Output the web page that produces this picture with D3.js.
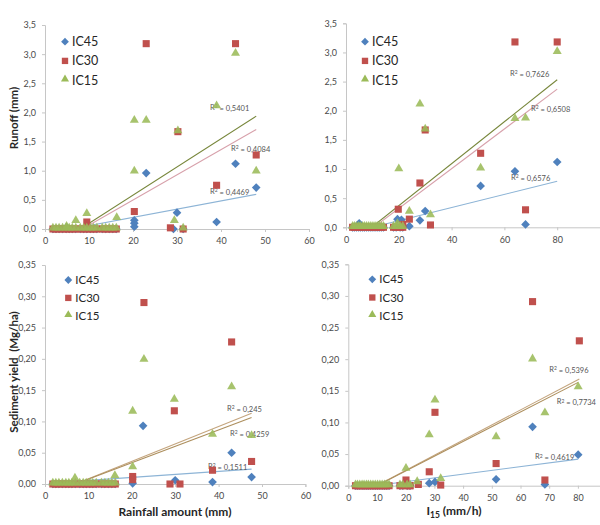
<!DOCTYPE html>
<html><head><meta charset="utf-8">
<script src="https://cdn.jsdelivr.net/npm/d3@7"></script>
<style>
body{margin:0;background:#fff}
svg{display:block}
text{font-family:Lato,"Open Sans",sans-serif}
</style>
</head><body>
<svg id="c" width="600" height="525"></svg>
<script>
// ---------- DATA ----------
const seriesNames = ["IC45", "IC30", "IC15"];
const seriesColors = ["#4F81BD", "#C0504D", "#9BBB59"];

// events with zero response (x positions)
const lowRain = [1.8, 2.5, 3.2, 4.0, 4.8, 5.5, 6.2, 7.0, 8.0, 8.8, 9.5, 10.3, 11.0, 11.8, 13.0, 13.8, 14.6, 15.4, 16.2];
const lowI15 = [2.5, 3.2, 4.0, 4.8, 5.5, 6.3, 7.0, 7.8, 8.6, 9.4, 10.2, 11.0, 11.8, 12.6, 13.4, 14.2, 18.0, 19.0, 20.5, 21.5];

// Runoff (mm) vs rainfall amount (mm)
const runRain_IC45 = [[4.9, 0.03], [20.3, 0.15], [20.3, 0.10], [20.3, 0.04], [23.0, 0.96], [29.2, 0.0], [30.0, 0.28], [31.4, 0.0], [39.0, 0.12], [43.3, 1.12], [48.0, 0.71]];
const runRain_IC30 = [[9.5, 0.12], [20.3, 0.30], [23.0, 3.18], [28.5, 0.02], [30.2, 1.67], [31.4, 0.0], [39.0, 0.75], [43.3, 3.18], [48.0, 1.27]];
const runRain_IC15 = [[4.9, 0.03], [7.0, 0.13], [9.5, 0.25], [16.3, 0.18], [20.3, 1.85], [20.3, 0.98], [23.0, 1.85], [29.4, 0.13], [30.2, 1.67], [31.4, 0.0], [39.0, 2.1], [43.3, 3.0], [48.0, 0.98]];

// Runoff (mm) vs I15 (mm/h)
const runI15_IC45 = [[5.0, 0.07], [19.5, 0.14], [21.0, 0.13], [24.0, 0.02], [28.0, 0.12], [30.0, 0.28], [51.0, 0.71], [64.0, 0.96], [68.0, 0.05], [80.0, 1.12]];
const runI15_IC30 = [[19.8, 0.31], [21.5, 0.05], [24.0, 0.14], [28.0, 0.76], [30.0, 1.67], [32.0, 0.04], [51.0, 1.27], [64.0, 3.18], [68.0, 0.30], [80.0, 3.18]];
const runI15_IC15 = [[19.5, 0.05], [20.0, 0.99], [24.0, 0.26], [28.0, 2.1], [30.0, 1.67], [32.0, 0.2], [51.0, 1.0], [64.0, 1.85], [68.0, 1.86], [80.0, 3.0]];

// Sediment yield (Mg/ha) vs rainfall amount (mm)
const sedRain_IC45 = [[20.2, 0.001], [22.6, 0.093], [30.0, 0.006], [38.6, 0.003], [43.0, 0.05], [47.6, 0.011]];
const sedRain_IC30 = [[20.2, 0.012], [20.2, 0.007], [22.8, 0.29], [28.8, 0.0], [29.8, 0.117], [31.1, 0.0], [38.6, 0.022], [43.0, 0.227], [47.6, 0.036]];
const sedRain_IC15 = [[6.9, 0.008], [16.1, 0.012], [20.2, 0.026], [20.2, 0.115], [22.8, 0.198], [29.8, 0.134], [38.6, 0.078], [43.0, 0.154], [47.6, 0.076]];

// Sediment yield (Mg/ha) vs I15 (mm/h)
const sedI15_IC45 = [[28.2, 0.004], [30.2, 0.006], [51.5, 0.01], [64.2, 0.093], [68.5, 0.002], [80.1, 0.049]];
const sedI15_IC30 = [[20.1, 0.009], [21.5, 0.0], [24.4, 0.002], [28.2, 0.022], [30.2, 0.116], [32.2, 0.001], [51.5, 0.035], [64.2, 0.291], [68.5, 0.009], [80.5, 0.229]];
const sedI15_IC15 = [[20.1, 0.026], [24.0, 0.005], [28.2, 0.079], [30.2, 0.134], [32.2, 0.01], [51.5, 0.076], [64.2, 0.199], [68.5, 0.114], [80.1, 0.155]];

// linear trendlines (slope, intercept, label) per series [IC45, IC30, IC15]
const trendSlope_runRain = [0.0141, 0.0432, 0.0484];
const trendIntercept_runRain = [-0.083, -0.367, -0.387];
const r2_runRain = ["0,4469", "0,4084", "0,5401"];

const trendSlope_runI15 = [0.01128, 0.0341, 0.036];
const trendIntercept_runI15 = [-0.112, -0.358, -0.349];
const r2_runI15 = ["0,6576", "0,6508", "0,7626"];

const trendSlope_sedRain = [0.00048, 0.00279, 0.00262];
const trendIntercept_sedRain = [0.001, -0.0196, -0.0184];
const r2_sedRain = ["0,1511", "0,245", "0,4259"];

const trendSlope_sedI15 = [0.000594, 0.00239, 0.00233];
const trendIntercept_sedI15 = [-0.0055, -0.0236, -0.0233];
const r2_sedI15 = ["0,4619", "0,5396", "0,7734"];

const runoffTicks = [0, 0.5, 1.0, 1.5, 2.0, 2.5, 3.0, 3.5];
const sedTicks = [0, 0.05, 0.10, 0.15, 0.20, 0.25, 0.30, 0.35];
const rainTicks = [0, 10, 20, 30, 40, 50, 60];
const i15TicksTop = [0, 20, 40, 60, 80];
const i15TicksBottom = [0, 10, 20, 30, 40, 50, 60, 70, 80];

// ---------- DRAW ----------
const svg = d3.select("#c");
const comma = (f) => (v) => d3.format(f)(v).replace(".", ",");

function withLow(low, pts) { return low.map(x => [x, 0]).concat(pts); }

function panel(cfg, id) {
  const x = d3.scaleLinear().domain(cfg.xd).range(cfg.xr);
  const y = d3.scaleLinear().domain(cfg.yd).range(cfg.yr);
  const g = svg.append("g");
  g.append("clipPath").attr("id", "clip" + id).append("rect")
    .attr("x", cfg.xr[0]).attr("y", cfg.yr[1])
    .attr("width", cfg.xr[1] - cfg.xr[0]).attr("height", cfg.yr[0] - cfg.yr[1]);

  const ya = g.append("g").attr("transform", `translate(${cfg.xr[0]},0)`)
    .call(d3.axisLeft(y).tickValues(cfg.yt).tickFormat(comma(cfg.yf)).tickSize(3).tickPadding(6));
  const xa = g.append("g").attr("transform", `translate(0,${cfg.yr[0]})`)
    .call(d3.axisBottom(x).tickValues(cfg.xt).tickFormat(d3.format("d")).tickSize(3).tickPadding(6));
  [ya, xa].forEach(a => {
    a.select(".domain").attr("stroke", "#c6c6c6");
    a.selectAll(".tick line").attr("stroke", "#c6c6c6");
    a.selectAll(".tick text").attr("fill", "#4a4a4a").style("font-size", "9px").style("font-family", "Lato");
  });

  // trendlines
  const tl = g.append("g").attr("clip-path", `url(#clip${id})`);
  cfg.series.forEach((pts, i) => {
    const xs = pts.map(p => p[0]);
    const x0 = d3.min(xs), x1 = d3.max(xs);
    tl.append("line")
      .attr("x1", x(x0)).attr("y1", y(cfg.slope[i] * x0 + cfg.icpt[i]))
      .attr("x2", x(x1)).attr("y2", y(cfg.slope[i] * x1 + cfg.icpt[i]))
      .attr("stroke", cfg.trendColors[i]).attr("stroke-width", 1.1);
  });
  // R2 labels
  cfg.r2.forEach((t, i) => {
    const tx = g.append("text").attr("x", cfg.r2pos[i][0]).attr("y", cfg.r2pos[i][1])
      .attr("dy", "0.35em").attr("fill", "#555").style("font-size", "7.5px");
    tx.append("tspan").text("R");
    tx.append("tspan").attr("dy", "-0.35em").style("font-size", "5px").text("2");
    tx.append("tspan").attr("dy", "0.35em").text(" = " + t);
  });

  // markers
  const sym = [d3.symbolDiamond2, d3.symbolSquare2, d3.symbolTriangle2];
  const symSize = [48, 64, 58];
  cfg.series.forEach((pts, i) => {
    g.append("g").selectAll("path").data(pts).join("path")
      .attr("transform", d => `translate(${x(d[0])},${y(d[1]) - (i === 2 ? 1 : 0)})`)
      .attr("d", d3.symbol().type(sym[i]).size(symSize[i]))
      .attr("fill", seriesColors[i]).attr("fill-opacity", i === 2 ? 0.88 : 1);
  });

  // legend
  seriesNames.forEach((n, i) => {
    const ly = cfg.leg[1] + i * cfg.leg[2];
    g.append("path").attr("transform", `translate(${cfg.leg[0]},${ly - (i === 2 ? 1 : 0)})`)
      .attr("d", d3.symbol().type(sym[i]).size(symSize[i] * 0.8)).attr("fill", seriesColors[i]);
    g.append("text").attr("x", cfg.leg[0] + 7).attr("y", ly).attr("dy", "0.36em")
      .attr("fill", "#262626").style("font-size", cfg.legFont + "px").text(n);
  });
}

const topTrend = ["#8db4d6", "#d7a0aa", "#77863a"];
const botTrend = ["#8db4d6", "#c4a57e", "#ad8f5d"];

panel({
  xd: [0, 60], xr: [45, 309], yd: [0, 3.5], yr: [229, 25], xt: rainTicks, yt: runoffTicks, yf: ".1f",
  series: [withLow(lowRain, runRain_IC45), withLow(lowRain, runRain_IC30), withLow(lowRain, runRain_IC15)],
  slope: trendSlope_runRain, icpt: trendIntercept_runRain, r2: r2_runRain, trendColors: topTrend,
  r2pos: [[210, 191], [231, 148], [210, 107]], leg: [65, 41.7, 19.2], legFont: 12.5
}, 1);

panel({
  xd: [0, 100], xr: [346, 610], yd: [0, 3.5], yr: [227.3, 23.3], xt: i15TicksTop, yt: runoffTicks, yf: ".1f",
  series: [withLow(lowI15, runI15_IC45), withLow(lowI15, runI15_IC30), withLow(lowI15, runI15_IC15)],
  slope: trendSlope_runI15, icpt: trendIntercept_runI15, r2: r2_runI15, trendColors: topTrend,
  r2pos: [[511, 177], [531, 108], [510, 73]], leg: [365, 41.7, 19.2], legFont: 12.5
}, 2);

panel({
  xd: [0, 60], xr: [45, 305.4], yd: [0, 0.35], yr: [484, 265], xt: rainTicks, yt: sedTicks, yf: ".2f",
  series: [withLow(lowRain, sedRain_IC45), withLow(lowRain, sedRain_IC30), withLow(lowRain, sedRain_IC15)],
  slope: trendSlope_sedRain, icpt: trendIntercept_sedRain, r2: r2_sedRain, trendColors: botTrend,
  r2pos: [[208, 466.5], [227, 408.3], [230, 433.3]], leg: [68.3, 280, 17.9], legFont: 11.5
}, 3);

panel({
  xd: [0, 90], xr: [348.3, 606.6], yd: [0, 0.35], yr: [485.7, 264.3], xt: i15TicksBottom, yt: sedTicks, yf: ".2f",
  series: [withLow(lowI15, sedI15_IC45), withLow(lowI15, sedI15_IC30), withLow(lowI15, sedI15_IC15)],
  slope: trendSlope_sedI15, icpt: trendIntercept_sedI15, r2: r2_sedI15, trendColors: botTrend,
  r2pos: [[535, 456.7], [549.3, 369], [556.7, 401.7]], leg: [372.3, 279.3, 18.2], legFont: 11.5
}, 4);

// axis titles
svg.append("text").attr("transform", "translate(18,118) rotate(-90)").attr("text-anchor", "middle")
  .attr("fill", "#262626").style("font-size", "11.5px").style("font-weight", "bold").text("Runoff (mm)");
svg.append("text").attr("transform", "translate(18,372) rotate(-90)").attr("text-anchor", "middle")
  .attr("fill", "#262626").style("font-size", "11.5px").style("font-weight", "bold").text("Sediment yield  (Mg/ha)")
  .attr("xml:space", "preserve");
svg.append("text").attr("x", 175).attr("y", 516).attr("text-anchor", "middle")
  .attr("fill", "#262626").style("font-size", "12px").style("font-weight", "bold").text("Rainfall amount (mm)");
const it = svg.append("text").attr("x", 454).attr("y", 515).attr("text-anchor", "middle")
  .attr("fill", "#262626").style("font-size", "12px").style("font-weight", "bold");
it.append("tspan").text("I");
it.append("tspan").attr("dy", "3").style("font-size", "8.5px").text("15");
it.append("tspan").attr("dy", "-3").text(" (mm/h)");
</script>
</body></html>
